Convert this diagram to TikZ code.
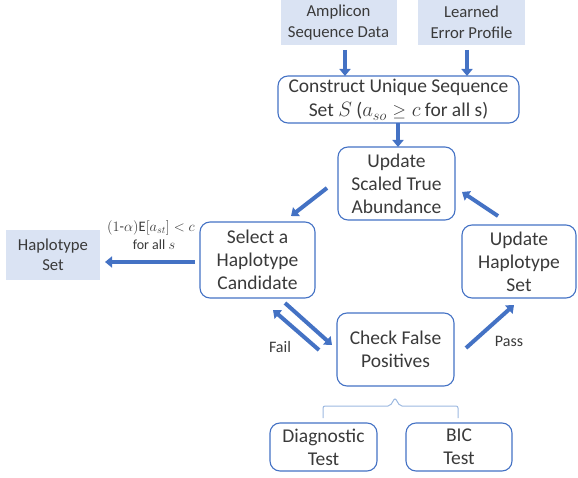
\documentclass[tikz,border=0pt]{standalone}
\usepackage{fontspec}
\setmainfont{Carlito}
\usetikzlibrary{arrows.meta}
\definecolor{bblue}{HTML}{4472C4}
\definecolor{lblue}{HTML}{DAE3F3}
\definecolor{txt}{HTML}{3A3A3A}
\definecolor{brk}{HTML}{9DB9E0}
\begin{document}
\begin{tikzpicture}[x=1pt,y=-1pt,
  font=\fontsize{19.5}{23}\selectfont, text=txt,
  rbox/.style={draw=bblue, line width=1.1pt, rounded corners=10pt, align=center, inner sep=0pt},
  fbox/.style={fill=lblue, align=center, inner sep=0pt, font=\fontsize{16.7}{20.5}\selectfont},
  fat/.style={draw=bblue, line width=4pt, -{Triangle[length=7pt,width=11pt]}},
  lab/.style={font=\fontsize{16}{18}\selectfont, text=txt}]
\useasboundingbox (0,0) rectangle (578,478);
\node[fbox, minimum width=116pt, minimum height=45pt] (amp) at (338.5,22.5) {Amplicon\\Sequence Data};
\node[fbox, minimum width=107pt, minimum height=45pt] (err) at (471.5,22.5) {Learned\\Error Profile};
\node[rbox, minimum width=241pt, minimum height=47pt, font=\fontsize{19.5}{24.5}\selectfont] (con) at (398.5,99.5) {Construct Unique Sequence\\Set $S$ ($a_{so}\mathrel{\hbox{\fontsize{16}{16}\selectfont$\geq$}} c$ for all s)};
\node[rbox, minimum width=117pt, minimum height=73pt] (ust) at (396.5,183.5) {Update\\Scaled True\\Abundance};
\node[rbox, minimum width=115pt, minimum height=76pt] (sel) at (257.5,260) {Select a\\Haplotype\\Candidate};
\node[rbox, minimum width=114pt, minimum height=73pt] (uhs) at (519,261.5) {Update\\Haplotype\\Set};
\node[rbox, minimum width=117pt, minimum height=73pt] (chk) at (395.5,349.5) {Check False\\Positives};
\node[rbox, minimum width=107pt, minimum height=48pt] (dia) at (323.5,447) {Diagnostic\\Test};
\node[rbox, minimum width=106pt, minimum height=48pt] (bic) at (459,447) {BIC\\Test};
\node[fbox, minimum width=94pt, minimum height=50pt] (hap) at (53,255) {Haplotype\\Set};
% arrows
\coordinate (b1s) at (345,50); \coordinate (b1e) at (345,76);
\draw[fat] (b1s) -- (b1e);
\coordinate (b2s) at (467,50); \coordinate (b2e) at (467,76);
\draw[fat] (b2s) -- (b2e);
\coordinate (b3s) at (398,123); \coordinate (b3e) at (398,147);
\draw[fat] (b3s) -- (b3e);
\coordinate (a1s) at (327,188); \coordinate (a1e) at (291,216);
\draw[fat] (a1s) -- (a1e);
\coordinate (a2s) at (498,216); \coordinate (a2e) at (462,192);
\draw[fat] (a2s) -- (a2e);
\coordinate (a3s) at (285,303); \coordinate (a3e) at (332,345);
\draw[fat] (a3s) -- (a3e);
\coordinate (a4s) at (319,350); \coordinate (a4e) at (273,310);
\draw[fat] (a4s) -- (a4e);
\coordinate (a5s) at (466,348); \coordinate (a5e) at (514,305);
\draw[fat] (a5s) -- (a5e);
\coordinate (a6s) at (195,262); \coordinate (a6e) at (105,262);
\draw[fat] (a6s) -- (a6e);
% labels
\node[lab, font=\fontsize{14.5}{16}\selectfont] (cond) at (151,228) {$(1\hbox{-}\alpha)\mathrm{E}[a_{st}]<c$};
\node[lab, font=\fontsize{14}{16}\selectfont] (forall) at (154,245) {for all $s$};
\node[lab] (fail) at (280,347) {Fail};
\node[lab] (pass) at (509,341) {Pass};
% bracket
\draw[brk, line width=1pt, rounded corners=2pt] (323,418) -- (323,406) -- (390,406) -- (395,398) -- (400,406) -- (458,406) -- (458,418);
\end{tikzpicture}
\end{document}
